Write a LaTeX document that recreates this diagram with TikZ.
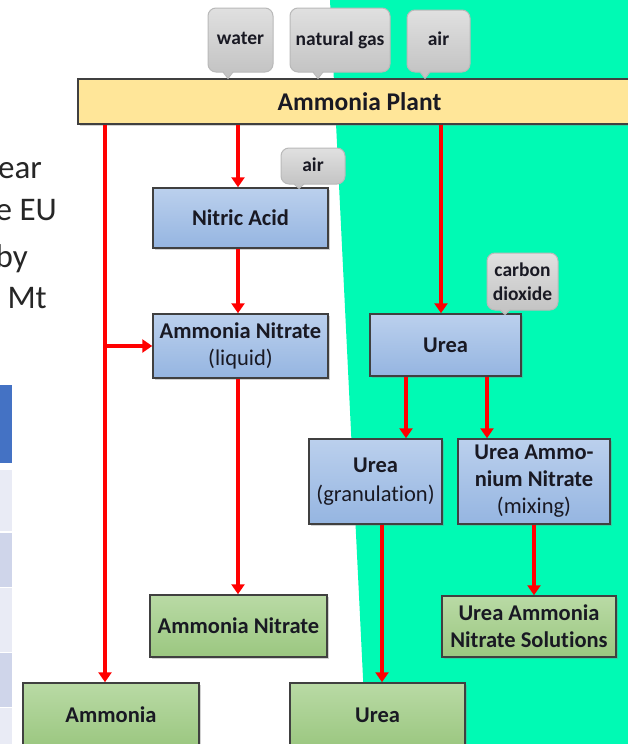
\documentclass[tikz,border=0pt]{standalone}
\usepackage{fontspec}
\setmainfont{Carlito}[Ligatures=NoCommon]
\usetikzlibrary{arrows.meta,shadows,calc}
\definecolor{bgmint}{RGB}{0,250,180}
\definecolor{plantfill}{RGB}{255,230,153}
\definecolor{bluetop}{RGB}{187,208,237}
\definecolor{bluebot}{RGB}{149,181,225}
\definecolor{greentop}{RGB}{185,218,165}
\definecolor{greenbot}{RGB}{155,199,128}
\definecolor{boxline}{RGB}{64,64,64}
\definecolor{calltop}{RGB}{224,224,224}
\definecolor{callbot}{RGB}{196,196,196}
\definecolor{callline}{RGB}{185,185,185}
\definecolor{tblblue}{RGB}{68,114,196}
\definecolor{tbllight}{RGB}{233,235,245}
\definecolor{tbldark}{RGB}{207,213,234}
\definecolor{arrred}{RGB}{255,0,0}
\definecolor{inktext}{RGB}{25,25,35}
\tikzset{
  box/.style={draw=boxline, line width=1.5pt, inner sep=2pt, align=center,
    font=\fontsize{22.5}{27}\selectfont\bfseries, text=inktext,
    drop shadow={shadow xshift=1.5pt, shadow yshift=-1.5pt, opacity=0.35}},
  bluebox/.style={box, top color=bluetop, bottom color=bluebot},
  greenbox/.style={box, top color=greentop, bottom color=greenbot},
  plantbox/.style={box, fill=plantfill, font=\fontsize{25.5}{30}\selectfont\bfseries},
  callbox/.style={draw=callline, line width=1pt, rounded corners=8pt,
    top color=calltop, bottom color=callbot, align=center, inner sep=2pt,
    font=\fontsize{19.5}{24}\selectfont\bfseries, text=inktext},
  flow/.style={draw=arrred, line width=3.2pt, -{Triangle[width=13pt,length=10pt]}},
  sidetext/.style={font=\fontsize{33}{40}\selectfont, text=black!85, inner sep=0pt, anchor=base east},
}
\newcommand\callptr[3]{%
  \fill[callbot] ($(#1.south)+(#2-5,-1.5)$) -- ($(#1.south)+(#2,#3)$) -- ($(#1.south)+(#2+5,-1.5)$) -- cycle;
  \draw[callline,line width=1pt] ($(#1.south)+(#2-5,-0.5)$) -- ($(#1.south)+(#2,#3)$) -- ($(#1.south)+(#2+5,-0.5)$);}
\begin{document}
\begin{tikzpicture}[x=1pt,y=-1pt]
\useasboundingbox (0,0) rectangle (628,744);
\clip (0,0) rectangle (628,744);
\fill[white] (0,0) rectangle (628,744);
% mint background
\fill[bgmint] (330,0) -- (640,0) -- (640,760) -- (367,760) -- cycle;
% table fragment
\fill[tblblue] (0,385) rectangle (12,463);
\fill[tbllight] (0,470) rectangle (12,531);
\fill[tbldark] (0,533) rectangle (12,587);
\fill[tbllight] (0,588) rectangle (12,652);
\fill[tbldark] (0,653) rectangle (12,707);
\fill[tbllight] (0,708) rectangle (12,760);
% cut-off slide text
\node[sidetext] (s1) at (42,178) {ear};
\node[sidetext] (s2) at (57,220) {e EU};
\node[sidetext] (s3) at (28,267) {by};
\node[sidetext] (s4) at (47,308) {Mt};
% boxes
\node[plantbox, minimum width=563pt, minimum height=45pt] (plant) at (359.5,101.5) {Ammonia Plant};
\node[bluebox, minimum width=175pt, minimum height=60pt] (nitric) at (240.5,218) {Nitric Acid};
\node[bluebox, minimum width=175pt, minimum height=64pt] (anliq) at (240.5,346) {Ammonia Nitrate\\\mdseries(liquid)};
\node[bluebox, minimum width=151pt, minimum height=62pt] (urea) at (445.5,345) {Urea};
\node[bluebox, minimum width=133pt, minimum height=85pt, font=\fontsize{22.5}{29}\selectfont\bfseries] (ureagran) at (375.5,481.5) {Urea\\\mdseries(granulation)};
\node[bluebox, minimum width=152pt, minimum height=85pt] (uan) at (534,481.5) {Urea Ammo-\\nium Nitrate\\\mdseries(mixing)};
\node[greenbox, minimum width=174pt, minimum height=61pt] (uans) at (529,626.5) {Urea Ammonia\\Nitrate Solutions};
\node[greenbox, minimum width=177pt, minimum height=62pt] (angreen) at (238.5,626) {Ammonia Nitrate};
\node[greenbox, minimum width=176pt, minimum height=64pt] (ammonia) at (111,715) {Ammonia};
\node[greenbox, minimum width=175pt, minimum height=64pt] (ureagreen) at (377.5,715) {Urea};
% callouts
\node[callbox, minimum width=65pt, minimum height=64pt] (cwater) at (240.5,40) {\raisebox{4pt}{water}};
\callptr{cwater}{-12.5}{6}
\node[callbox, minimum width=100pt, minimum height=64pt] (cgas) at (340,40) {natural gas};
\callptr{cgas}{-22}{6}
\node[callbox, minimum width=63pt, minimum height=62pt] (cair) at (438.5,41) {\raisebox{5pt}{air}};
\callptr{cair}{-13.5}{6}
\node[callbox, minimum width=64pt, minimum height=36pt] (cair2) at (313,166) {\raisebox{3pt}{air}};
\callptr{cair2}{-14}{4}
\node[callbox, minimum width=71pt, minimum height=57pt] (cco2) at (522.5,281.5) {carbon\\dioxide};
\callptr{cco2}{-17.5}{4}
% flows
\coordinate (amtop) at ([xshift=-6pt]ammonia.north);
\draw[flow] (plant.south -| amtop) -- (amtop);
\draw[flow] (amtop |- anliq.west) -- (anliq.west);
\coordinate (nt) at ([xshift=-2.5pt]nitric.north);
\draw[flow] (plant.south -| nt) -- (nt);
\draw[flow] ([xshift=-2.5pt]nitric.south) -- ([xshift=-2.5pt]anliq.north);
\draw[flow] ([xshift=-2.5pt]anliq.south) -- ([xshift=-0.5pt]angreen.north);
\coordinate (uc) at ([xshift=-4.5pt]urea.north);
\draw[flow] (plant.south -| uc) -- (uc);
\coordinate (ua) at ([xshift=-39.5pt]urea.south);
\draw[flow] (ua) -- (ua |- ureagran.north);
\coordinate (ub) at ([xshift=41.5pt]urea.south);
\draw[flow] (ub) -- (ub |- uan.north);
\coordinate (gd) at ([xshift=6.5pt]ureagran.south);
\draw[flow] (gd) -- (gd |- ureagreen.north);
\draw[flow] (uan.south) -- (uan.south |- uans.north);
\end{tikzpicture}
\end{document}
